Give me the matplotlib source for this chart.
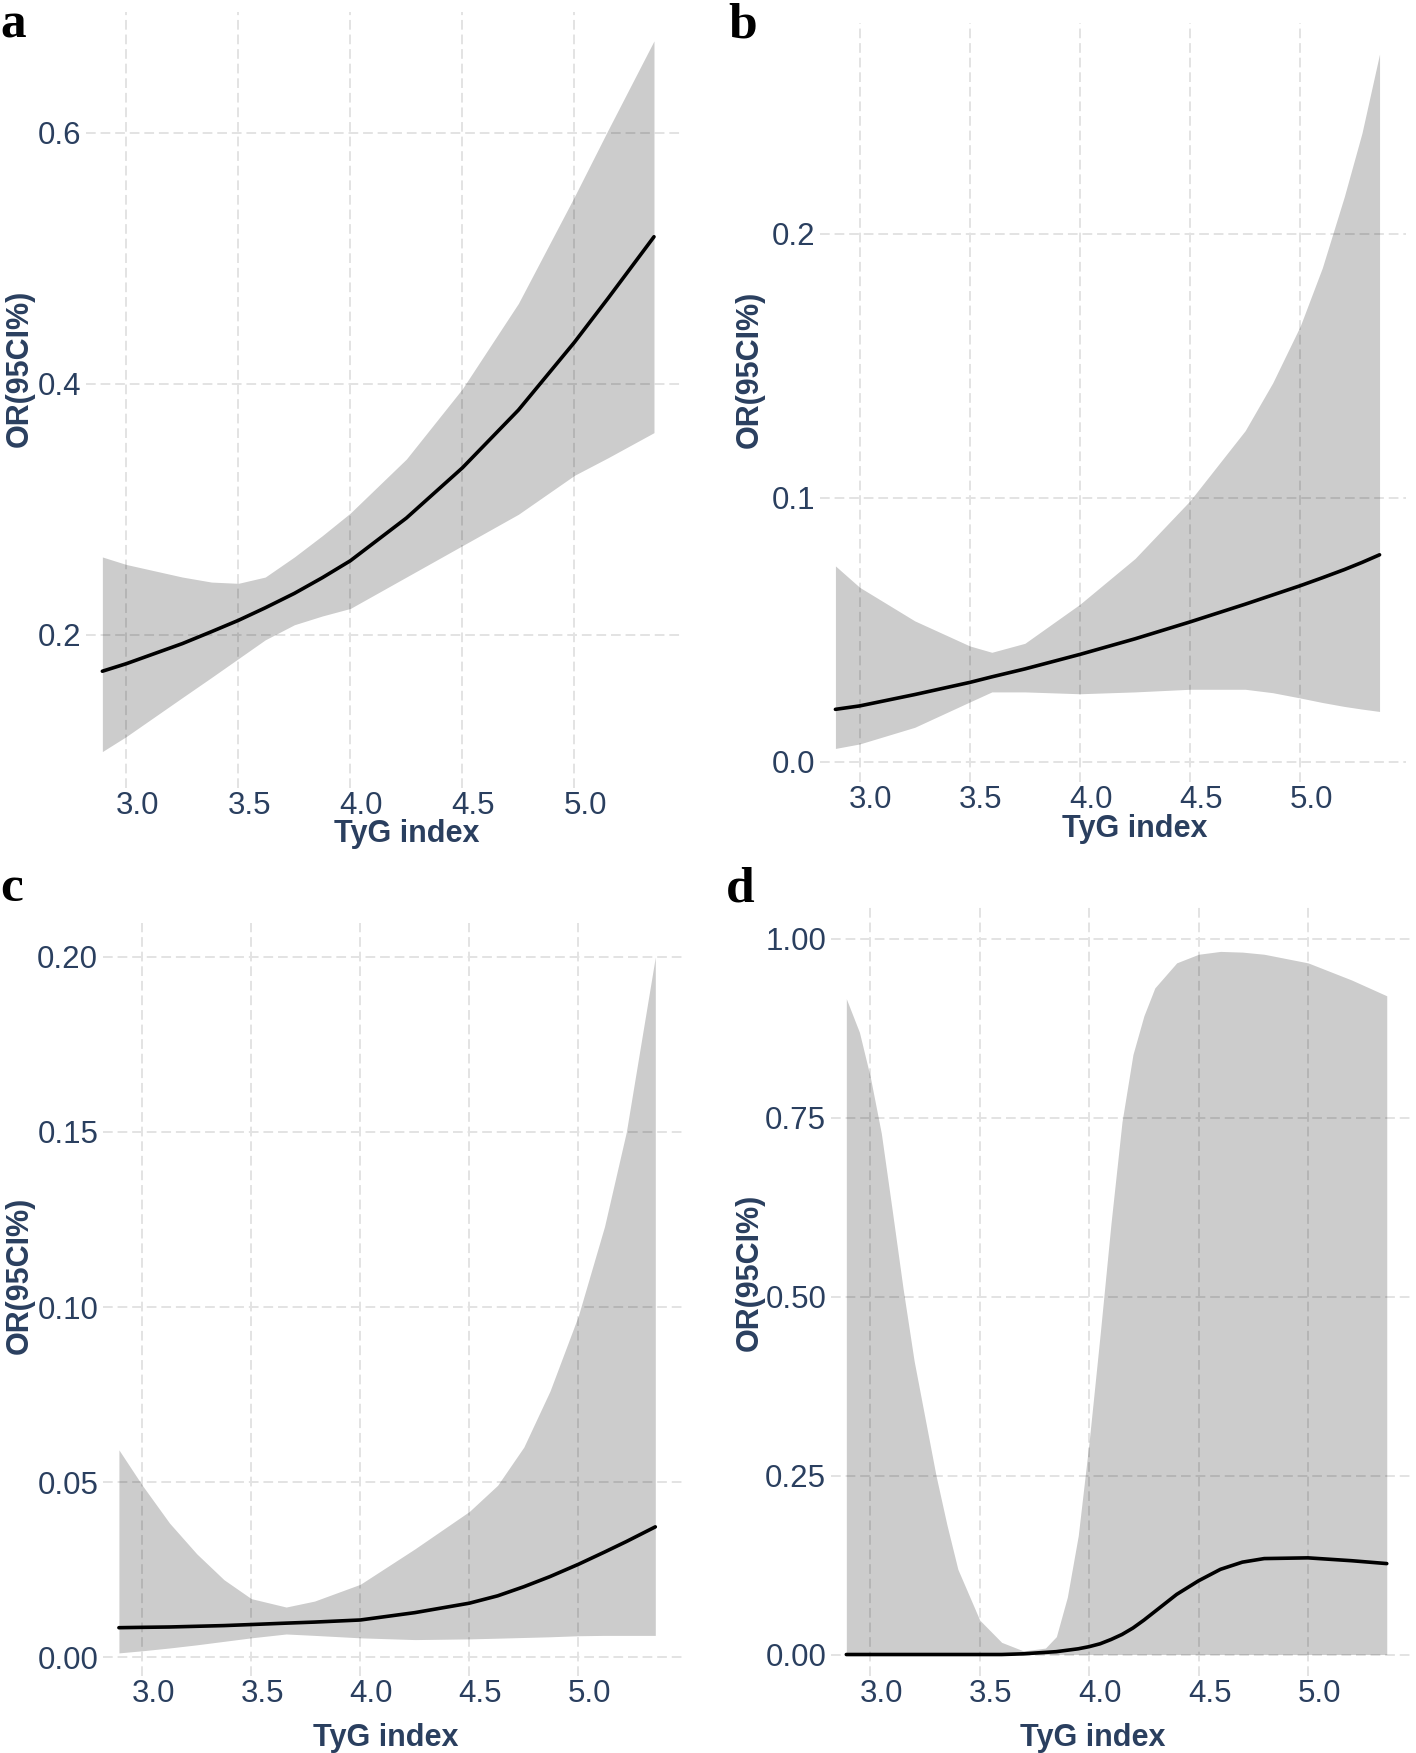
import numpy as np
import matplotlib
matplotlib.use("Agg")
import matplotlib.pyplot as plt
from matplotlib.transforms import ScaledTranslation

plt.rcParams['font.family'] = ['Liberation Sans', 'DejaVu Sans']

# ================================
# DATA
# ================================
x_ticks = [3.0, 3.5, 4.0, 4.5, 5.0]
x_ticklabels = ["3.0", "3.5", "4.0", "4.5", "5.0"]

# panel a
xa = [2.893, 3.0, 3.25, 3.38, 3.5, 3.62, 3.75, 3.875, 4.0, 4.25, 4.5, 4.75, 5.0, 5.15, 5.355]
or_a = [0.171, 0.177, 0.193, 0.2025, 0.2115, 0.2215, 0.233, 0.2455, 0.259, 0.293, 0.333, 0.379, 0.433, 0.468, 0.517]
upper_a = [0.262, 0.256, 0.246, 0.242, 0.241, 0.246, 0.262, 0.279, 0.297, 0.340, 0.396, 0.464, 0.549, 0.602, 0.673]
lower_a = [0.107, 0.119, 0.150, 0.166, 0.181, 0.196, 0.208, 0.215, 0.221, 0.246, 0.271, 0.296, 0.327, 0.341, 0.361]
yticks_a = [0.2, 0.4, 0.6]
ylabels_a = ["0.2", "0.4", "0.6"]

# panel b
xb = [2.89, 3.0, 3.25, 3.5, 3.6, 3.75, 4.0, 4.25, 4.5, 4.75, 4.875, 5.0, 5.1, 5.2, 5.28, 5.36]
or_b = [0.0199, 0.0212, 0.0255, 0.0301, 0.0322, 0.0352, 0.0407, 0.0466, 0.0530, 0.0597, 0.0632, 0.0667,
        0.0697, 0.0728, 0.0755, 0.0784]
upper_b = [0.0742, 0.0661, 0.0534, 0.0439, 0.0415, 0.0449, 0.0597, 0.0770, 0.0989, 0.1254, 0.1435, 0.1650,
           0.1870, 0.2140, 0.2380, 0.2680]
lower_b = [0.0051, 0.0068, 0.0131, 0.0227, 0.0265, 0.0265, 0.0258, 0.0265, 0.0275, 0.0275, 0.0262, 0.0242,
           0.0225, 0.0210, 0.0200, 0.0191]
yticks_b = [0.0, 0.1, 0.2]
ylabels_b = ["0.0", "0.1", "0.2"]

# panel c
xc = [2.893, 3.0, 3.125, 3.25, 3.375, 3.5, 3.66, 3.79, 4.0, 4.25, 4.5, 4.63, 4.75, 4.87, 5.0, 5.12, 5.22, 5.353]
or_c = [0.0084, 0.0085, 0.0086, 0.0088, 0.0090, 0.0093, 0.0097, 0.0100, 0.0106, 0.0127, 0.0154, 0.0175,
        0.0201, 0.0230, 0.0265, 0.0300, 0.0330, 0.0372]
upper_c = [0.0592, 0.0491, 0.0383, 0.0295, 0.0221, 0.0167, 0.0143, 0.0160, 0.0208, 0.0309, 0.0416, 0.0491,
           0.0600, 0.0760, 0.0975, 0.1230, 0.1500, 0.2000]
lower_c = [0.0012, 0.0018, 0.0026, 0.0035, 0.0045, 0.0055, 0.0066, 0.0062, 0.0055, 0.0050, 0.0052, 0.0054,
           0.0056, 0.0058, 0.0061, 0.0062, 0.0062, 0.0062]
yticks_c = [0.0, 0.05, 0.10, 0.15, 0.20]
ylabels_c = ["0.00", "0.05", "0.10", "0.15", "0.20"]

# panel d
xd = [2.89, 2.95, 3.0, 3.05, 3.1, 3.15, 3.2, 3.25, 3.3, 3.35, 3.4, 3.5, 3.6, 3.7, 3.8, 3.85,
      3.9, 3.95, 4.0, 4.05, 4.1, 4.15, 4.2, 4.25, 4.3, 4.4, 4.5, 4.6, 4.7, 4.8, 5.0, 5.2, 5.36]
or_d = [0.0, 0.0, 0.0, 0.0, 0.0, 0.0, 0.0, 0.0, 0.0, 0.0, 0.0, 0.0, 0.0, 0.001, 0.003, 0.004,
        0.006, 0.008, 0.011, 0.015, 0.021, 0.028, 0.037, 0.048, 0.060, 0.084, 0.103, 0.119, 0.129, 0.134,
        0.135, 0.131, 0.127]
upper_d = [0.916, 0.869, 0.806, 0.728, 0.620, 0.510, 0.410, 0.330, 0.250, 0.181, 0.119, 0.048, 0.017, 0.005, 0.009, 0.025,
           0.080, 0.166, 0.298, 0.447, 0.603, 0.744, 0.838, 0.892, 0.931, 0.966, 0.978, 0.982, 0.981, 0.978, 0.966, 0.942, 0.920]
lower_d = [0.0, 0.0, 0.0, 0.0, 0.0, 0.0, 0.0, 0.0, 0.0, 0.0, 0.0, 0.0, 0.0, 0.0, 0.0, 0.0,
           0.0, 0.0, 0.0, 0.0, 0.0, 0.0, 0.0, 0.0, 0.0, 0.0, 0.0, 0.0, 0.0, 0.0, 0.0, 0.0, 0.0]
yticks_d = [0.0, 0.25, 0.50, 0.75, 1.00]
ylabels_d = ["0.00", "0.25", "0.50", "0.75", "1.00"]

# ================================
# LAYOUT (pixel boxes of the 1416x1753 canvas)
# ================================
W, H = 1416, 1753
TXT = "#2a3f5f"
FS = 22

fig = plt.figure(figsize=(W / 100, H / 100), dpi=100)


def px(x, y):
    return x / W, 1 - y / H


panels = [
    # letter, (l, r, t, b) px, ylim, data, ticks, letter pos, xlabel pos, ylabel pos
    ("a", (86, 682, 12, 788), (0.078, 0.696), (xa, or_a, upper_a, lower_a), (yticks_a, ylabels_a),
     (0, 37), (407, 834), (20, 368)),
    ("b", (820, 1406, 23, 782), (-0.0076, 0.2797), (xb, or_b, upper_b, lower_b), (yticks_b, ylabels_b),
     (728, 37), (1135, 829), (750, 369)),
    ("c", (103, 683, 923, 1676), (-0.0054, 0.2097), (xc, or_c, upper_c, lower_c), (yticks_c, ylabels_c),
     (0, 901), (386, 1738), (20, 1275)),
    ("d", (831, 1413, 907, 1676), (-0.030, 1.044), (xd, or_d, upper_d, lower_d), (yticks_d, ylabels_d),
     (726, 902), (1093, 1738), (750, 1272)),
]

for letter, (l, r, t, b), ylim, (xs, mid, up, lo), (yt, yl), lpos, xlpos, ylpos in panels:
    ax = fig.add_axes([l / W, 1 - b / H, (r - l) / W, (b - t) / H])
    ax.fill_between(xs, lo, up, color="black", alpha=0.2, linewidth=0)
    ax.plot(xs, mid, color="black", linewidth=2.6, solid_capstyle="round", solid_joinstyle="round")

    ax.set_xlim(2.82, 5.48)
    ax.set_ylim(*ylim)
    ax.set_xticks(x_ticks)
    ax.set_xticklabels(x_ticklabels)
    ax.set_yticks(yt)
    ax.set_yticklabels(yl)
    ax.tick_params(length=0, labelsize=FS + 0.5, labelcolor=TXT, pad=3.5)
    ax.tick_params(axis="x", pad=2.5)
    for lab in ax.get_xticklabels():
        lab.set_transform(lab.get_transform() + ScaledTranslation(0.11, 0, fig.dpi_scale_trans))

    ax.set_axisbelow(True)
    ax.grid(True, color="#e3e3e3", linewidth=1.4, linestyle=(0, (5, 2.5)))
    for s in ax.spines.values():
        s.set_visible(False)

    fig.text(*px(*lpos), letter, fontsize=37, fontweight="bold",
             family="Liberation Serif", va="baseline", ha="left")
    fig.text(*px(*xlpos), "TyG index", fontsize=FS, fontweight="bold", color=TXT,
             ha="center", va="center")
    fig.text(*px(*ylpos), "OR(95CI%)", fontsize=FS, fontweight="bold", color=TXT,
             ha="center", va="center", rotation=90)

fig.savefig("out.png", dpi=100, facecolor="white")
